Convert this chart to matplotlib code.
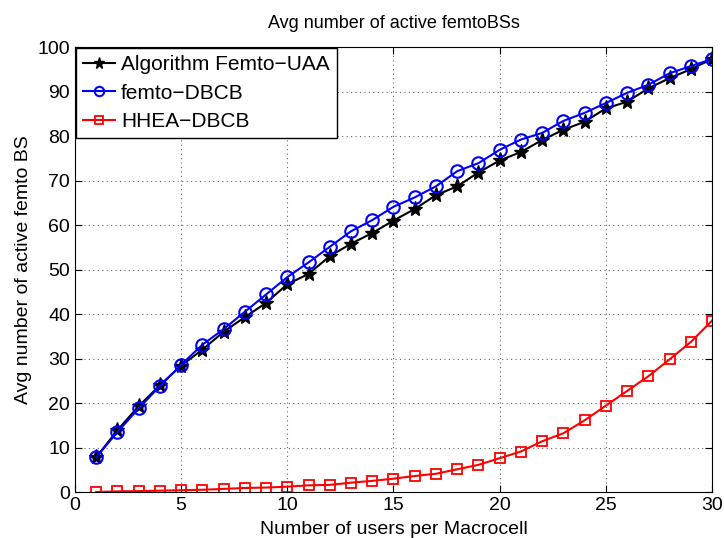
import matplotlib
matplotlib.use('Agg')
import matplotlib.pyplot as plt

plt.rcParams['font.family'] = ['Liberation Sans', 'DejaVu Sans']

users = list(range(1, 31))

femto_uaa = [7.8, 13.9, 19.3, 24.0, 28.4, 32.0, 36.0, 39.3, 42.5, 46.7,
             49.0, 53.0, 55.8, 58.2, 61.0, 63.6, 66.7, 68.7, 71.8, 74.5,
             76.4, 79.1, 81.4, 83.2, 86.2, 87.7, 90.7, 93.0, 95.0, 97.3]
femto_dbcb = [7.8, 13.5, 18.8, 23.8, 28.6, 33.1, 36.6, 40.5, 44.4, 48.3,
              51.6, 55.1, 58.6, 61.1, 64.1, 66.2, 68.7, 72.1, 73.9, 76.9,
              79.2, 80.7, 83.4, 85.2, 87.4, 89.7, 91.5, 94.1, 95.7, 97.3]
hhea_dbcb = [0.0, 0.15, 0.2, 0.3, 0.4, 0.5, 0.7, 0.9, 1.0, 1.2,
             1.5, 1.6, 2.1, 2.5, 3.0, 3.6, 4.1, 5.1, 6.1, 7.6,
             9.1, 11.4, 13.2, 16.1, 19.4, 22.7, 26.0, 29.8, 33.7, 38.5]

fig = plt.figure(figsize=(7.24, 5.38), dpi=100)
ax = fig.add_axes([0.1036, 0.0855, 0.8798, 0.8271])

ax.plot(users, femto_uaa, color='black', marker='*', markersize=11, lw=1.5,
        label='Algorithm Femto\u2212UAA')
ax.plot(users, femto_dbcb, color='blue', marker='o', markersize=9, lw=1.5,
        markerfacecolor='none', markeredgewidth=1.5, label='femto\u2212DBCB')
ax.plot(users, hhea_dbcb, color='red', marker='s', markersize=7, lw=1.5,
        markerfacecolor='none', markeredgewidth=1.3, label='HHEA\u2212DBCB')

ax.set_xlim(0, 30)
ax.set_ylim(0, 100)
ax.set_xticks(range(0, 31, 5))
ax.set_yticks(range(0, 101, 10))
ax.tick_params(direction='in', labelsize=14, top=True, right=True, length=5)
ax.grid(True, linestyle=(0, (1, 3)), color='#666666', linewidth=0.8)

ax.set_title('Avg number of active femtoBSs', fontsize=13, pad=14)
ax.set_xlabel('Number of users per Macrocell', fontsize=14, labelpad=5)
ax.set_ylabel('Avg number of active femto BS', fontsize=14)

leg = ax.legend(loc='upper left', fontsize=15, fancybox=False, framealpha=1,
                edgecolor='black', borderaxespad=0.05, handlelength=1.5,
                borderpad=0.35, labelspacing=0.45, handletextpad=0.3,
                markerscale=0.75)
leg.get_frame().set_linewidth(1)

fig.savefig('out.png', dpi=100)
